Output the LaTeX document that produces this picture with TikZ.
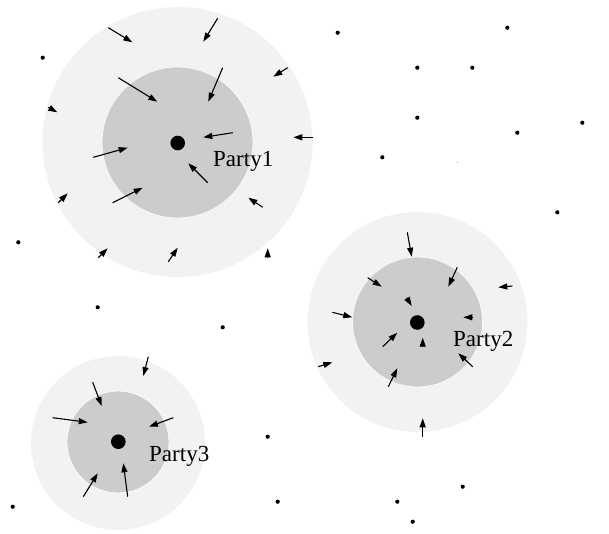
\documentclass[tikz,border=0pt]{standalone}
\usepackage{fontspec}
\setmainfont{Liberation Serif}
\usetikzlibrary{arrows.meta}
\definecolor{outerg}{HTML}{F2F2F2}
\definecolor{innerg}{HTML}{CCCCCC}
\tikzset{
  outerdisk/.style={fill=outerg},
  innerdisk/.style={fill=innerg, draw=white!90!innerg, line width=0.8pt},
  center/.style={fill=black},
  pt/.style={fill=black},
  arr/.style={line width=1.1pt, -{Triangle[length=9pt,width=6pt]}},
  lbl/.style={anchor=base west, inner sep=0pt, font=\fontsize{23}{23}\selectfont}
}
\begin{document}
\begin{tikzpicture}[x=1pt,y=-1pt]
\useasboundingbox (0,0) rectangle (609,533);
% Party disks
\fill[outerdisk] (177.5,142) circle (135);
\fill[outerdisk] (417.5,322) circle (110);
\fill[outerdisk] (118,443) circle (87);
\filldraw[innerdisk] (177.5,142.5) circle (75.5);
\filldraw[innerdisk] (417.5,322) circle (65);
\filldraw[innerdisk] (118,442) circle (51);
% centres
\fill[center] (177.7,143) circle (7.3);
\fill[center] (417.3,322.5) circle (7.3);
\fill[center] (118.3,441.7) circle (7.3);
% labels
\node[lbl] (p1) at (213,166.5) {Party1};
\node[lbl] (p2) at (453,346.5) {Party2};
\node[lbl] (p3) at (149,461.5) {Party3};
% Party1 arrows
\draw[arr] (108.3,27.7) -- (132.3,42.3);
\draw[arr] (217.7,18.3) -- (203.3,41.7);
\draw[arr] (287.7,67.7) -- (273.3,76.7);
\draw[arr] (118.3,77.7) -- (157.3,101.7);
\draw[arr] (222.7,67.7) -- (208.3,101.7);
\draw[arr] (232.7,132.7) -- (203.3,137.3);
\draw[arr] (312.7,137.3) -- (293.3,137.3);
\draw[arr] (48.3,107.3) -- (57.3,112.3);
\draw[arr] (93.3,157.3) -- (127.7,147.7);
\draw[arr] (207.7,182.7) -- (188.3,163.3);
\draw[arr] (112.7,202.7) -- (142.7,187.7);
\draw[arr] (262.7,207.3) -- (248.3,197.7);
\draw[arr] (58.3,202.7) -- (67.7,193.3);
\draw[arr] (98.3,257.7) -- (107.7,248.3);
\draw[arr] (168.3,261.7) -- (177.7,247.7);
\draw[arr] (267.7,257.5) -- (267.7,248.3);
% Party2 arrows
\draw[arr] (407.3,232.3) -- (411.7,256.7);
\draw[arr] (457.3,267.3) -- (448.3,286.7);
\draw[arr] (367.7,277.7) -- (381.7,286.7);
\draw[arr] (512.3,286) -- (498.3,287.3);
\draw[arr] (332.3,312.3) -- (352.3,317.3);
\draw[arr] (406.7,297.7) -- (411.7,306);
\draw[arr] (472.7,317.3) -- (463.3,317.3);
\draw[arr] (382.7,346.7) -- (397.3,332.7);
\draw[arr] (422.7,346.7) -- (422.7,337.7);
\draw[arr] (472.7,366.7) -- (458.3,353.3);
\draw[arr] (318.3,366.7) -- (332.3,362.3);
\draw[arr] (388.3,386.7) -- (397.3,368.3);
\draw[arr] (422.7,436.7) -- (422.7,418.3);
% Party3 arrows
\draw[arr] (148.3,356.7) -- (143.3,376);
\draw[arr] (92.7,382.3) -- (101.7,406);
\draw[arr] (52.7,417.7) -- (87.7,422.3);
\draw[arr] (173.3,417.7) -- (149,426.7);
\draw[arr] (83.3,496.7) -- (97.7,473.3);
\draw[arr] (127.7,496.7) -- (123.3,463.3);
% scattered points
\foreach \p in {(42.7,57.7),(18.3,242.3),(97.7,307.3),(12.7,506.7),
  (337.7,32.7),(507.3,27.7),(417.3,67.7),(472.3,67.7),(417.3,117.7),
  (582.3,122.7),(517.3,132.7),(382.3,157.3),(557.3,212.3),
  (222.7,327.3),(267.7,436.7),(277.7,501.7),(397.3,501.7),(462.7,486.7),(412.7,521.7)}
  \fill[pt] \p circle (2.1);
\fill[gray!70] (457.7,162.7) circle (0.7);
\end{tikzpicture}
\end{document}
